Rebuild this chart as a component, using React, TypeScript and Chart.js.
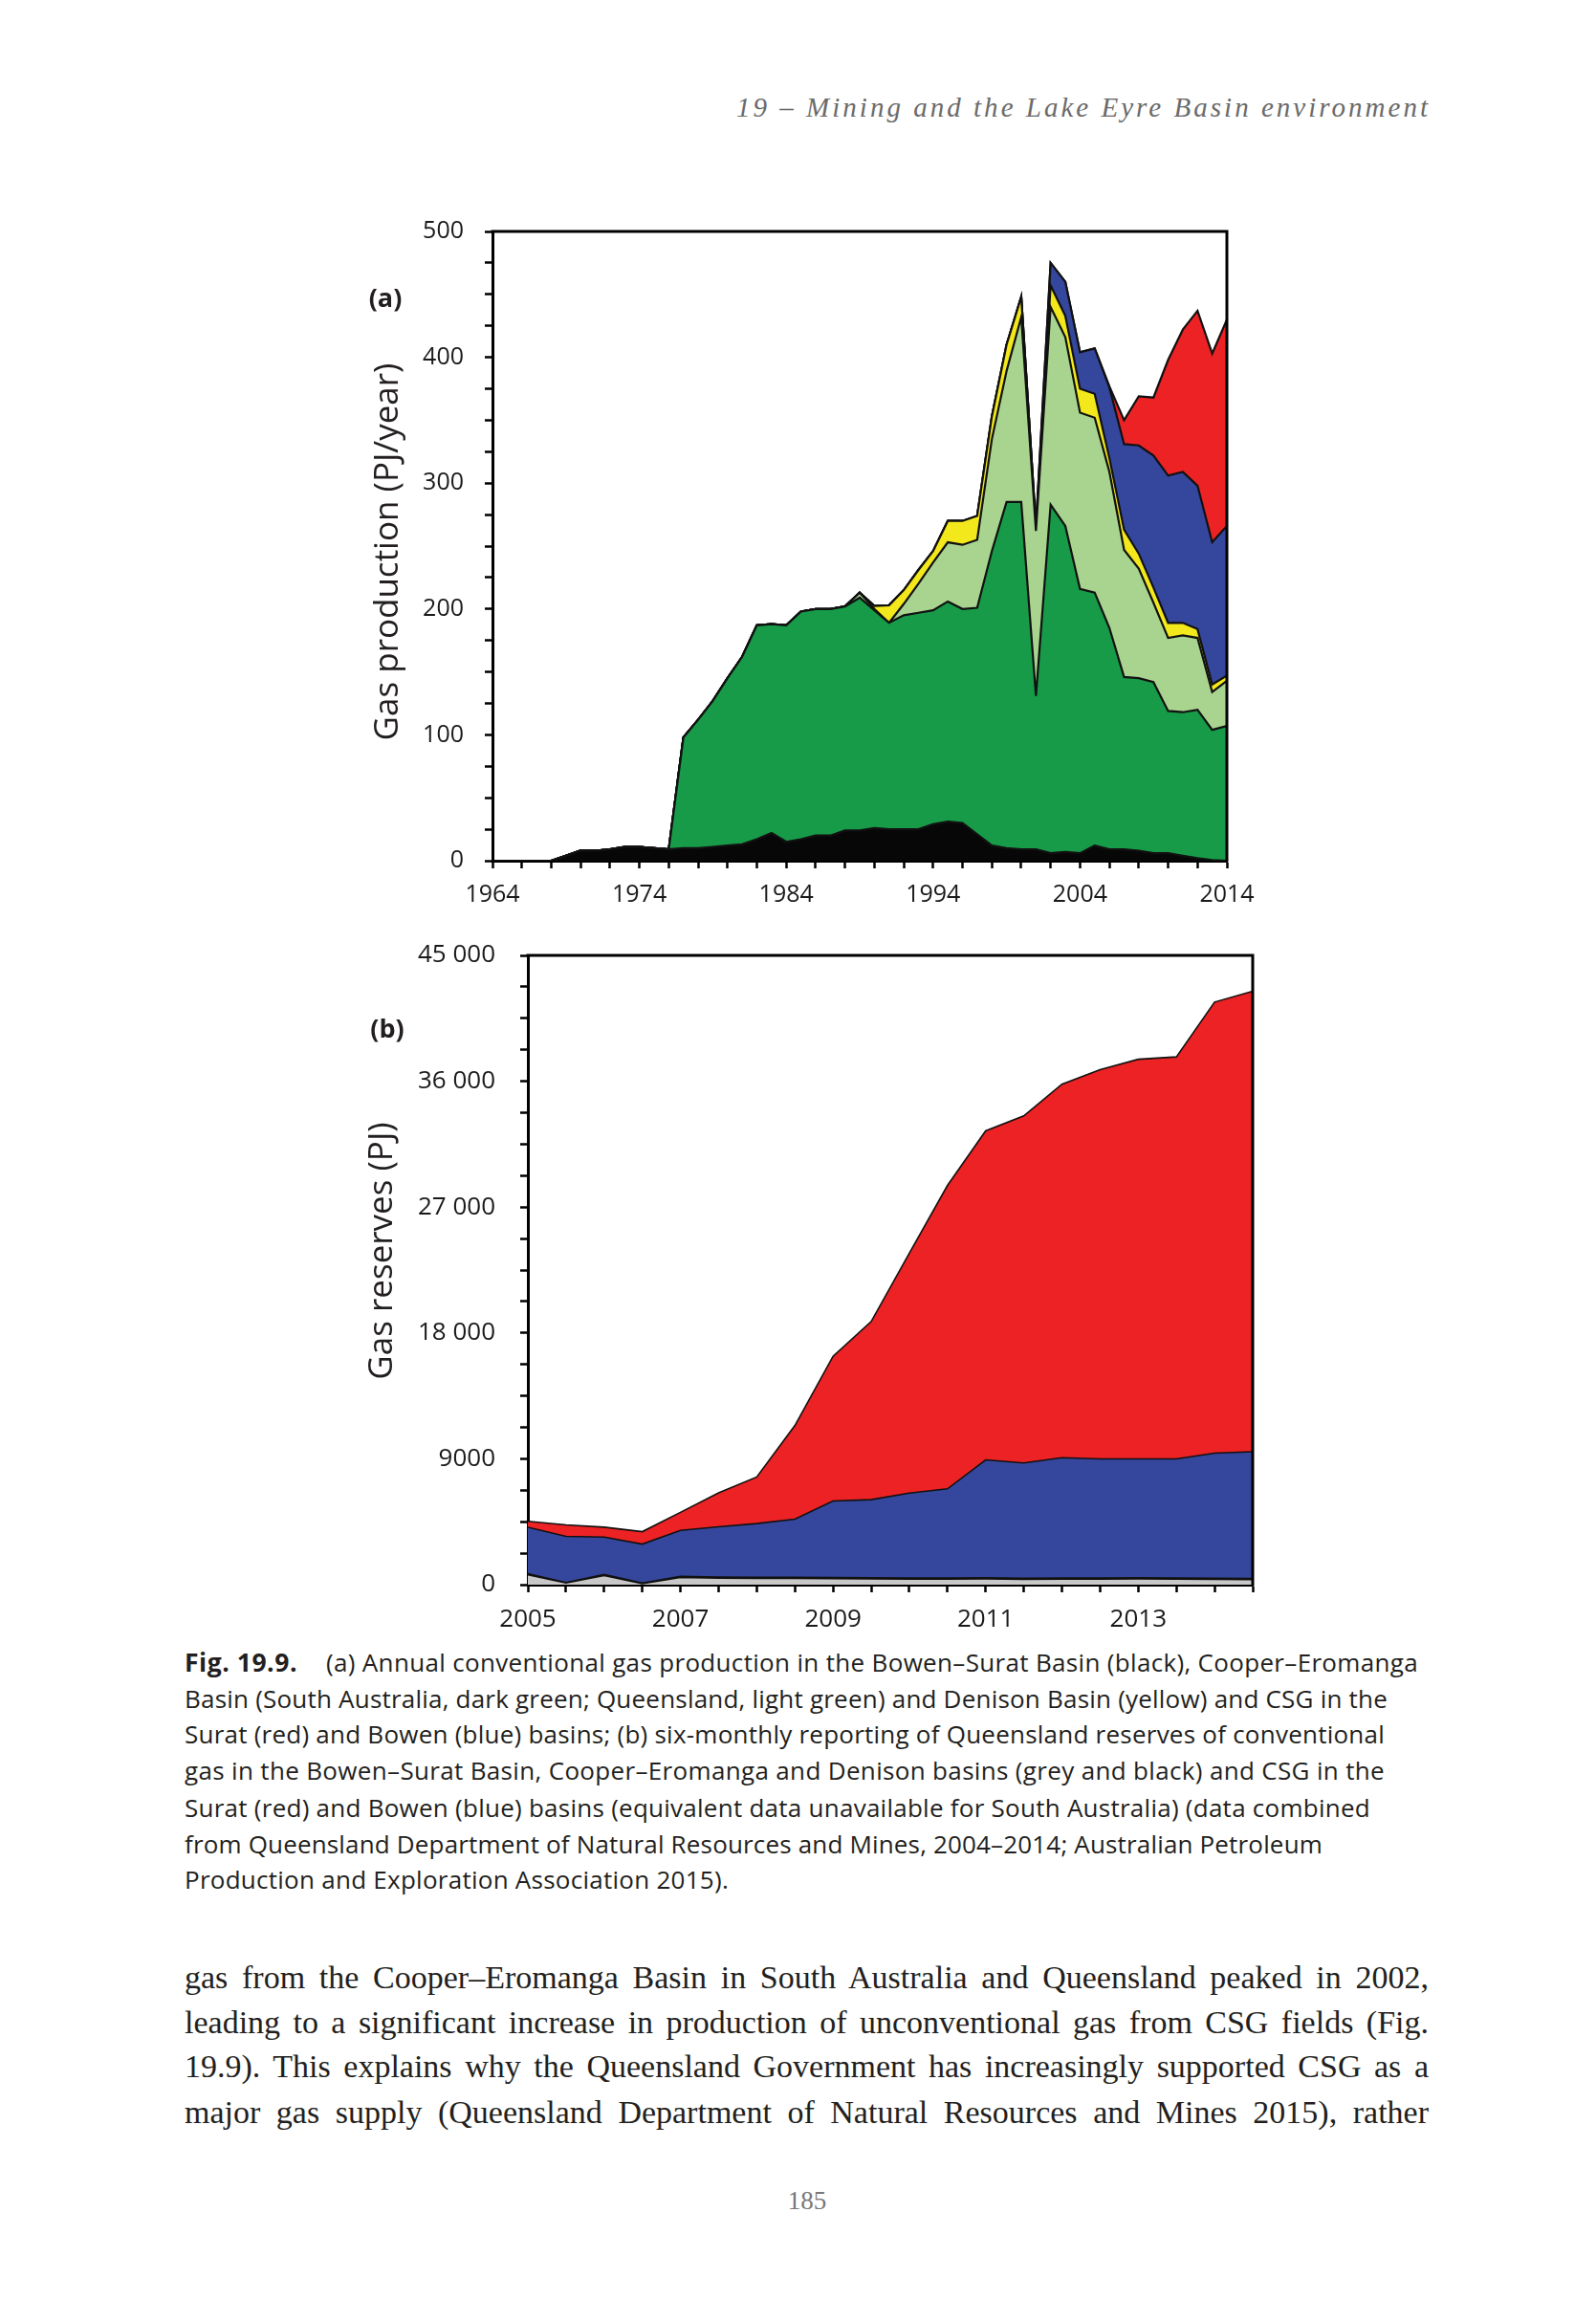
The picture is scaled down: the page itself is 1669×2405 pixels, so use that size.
import React, { useEffect, useLayoutEffect, useRef } from 'react';
import { Chart, registerables } from 'chart.js';

Chart.register(...registerables);

// ---------- Panel (a): annual gas production (PJ/year) ----------
const yearsA = [1964, 1965, 1966, 1967, 1968, 1969, 1970, 1971, 1972, 1973, 1974, 1975, 1976, 1977, 1978, 1979, 1980, 1981, 1982, 1983, 1984, 1985, 1986, 1987, 1988, 1989, 1990, 1991, 1992, 1993, 1994, 1995, 1996, 1997, 1998, 1999, 2000, 2001, 2002, 2003, 2004, 2005, 2006, 2007, 2008, 2009, 2010, 2011, 2012, 2013, 2014];
const bowenSuratA = [0, 0, 0, 0, 0, 4, 8, 8, 9, 11, 11, 10, 9, 10, 10, 11, 12, 13, 17, 22, 15, 17, 20, 20, 24, 24, 26, 25, 25, 25, 29, 31, 30, 21, 12, 10, 9, 9, 6, 7, 6, 12, 9, 9, 8, 6, 6, 4, 2, 0.5, 0];
const cooperSA_A = [0, 0, 0, 0, 0, 0, 0, 0, 0, 0, 0, 0, 0, 88, 102, 116, 133, 149, 170, 166, 172, 181, 180, 180, 178, 185, 173, 164, 170, 172, 170, 175, 170, 180, 234, 275, 276, 122, 277, 259, 210, 201, 176, 137, 137, 136, 113, 114, 118, 103.5, 107];
const cooperQLD_A = [0, 0, 0, 0, 0, 0, 0, 0, 0, 0, 0, 0, 0, 0, 0, 0, 0, 0, 0, 0, 0, 0, 0, 0, 0, 4, 1, 0, 9, 23, 38, 47, 51, 54, 89, 104, 147, 131, 157, 150, 140, 139, 124, 101, 87, 63, 58, 61, 57, 30, 36];
const denisonA = [0, 0, 0, 0, 0, 0, 0, 0, 0, 0, 0, 0, 0, 0, 0, 0, 0, 0, 0, 0, 0, 0, 0, 0, 0, 0, 2.5, 14, 11, 11, 9, 17, 19, 19, 18, 21, 16, 3, 17, 17, 19, 19, 11, 16, 12, 12, 12, 10, 7, 6, 4];
const csgBowenA = [0, 0, 0, 0, 0, 0, 0, 0, 0, 0, 0, 0, 0, 0, 0, 0, 0, 0, 0, 0, 0, 0, 0, 0, 0, 0, 0, 0, 0, 0, 0, 0, 0, 0, 0, 0, 0, 0, 18, 27, 29, 36, 56, 68, 86, 105, 117, 120, 114, 113, 119];
const csgSuratA = [0, 0, 0, 0, 0, 0, 0, 0, 0, 0, 0, 0, 0, 0, 0, 0, 0, 0, 0, 0, 0, 0, 0, 0, 0, 0, 0, 0, 0, 0, 0, 0, 0, 0, 0, 0, 0, 0, 0, 0, 0, 0, 1, 19, 39, 46, 92, 113, 139, 150, 164];
const xLabelsA = [1964, 1974, 1984, 1994, 2004, 2014];
const yLabelsA = [0, 100, 200, 300, 400, 500];

// ---------- Panel (b): six-monthly Queensland reserves (PJ) ----------
const periodsB = [2005, 2005.5, 2006, 2006.5, 2007, 2007.5, 2008, 2008.5, 2009, 2009.5, 2010, 2010.5, 2011, 2011.5, 2012, 2012.5, 2013, 2013.5, 2014, 2014.5];
const conventionalGreyB = [700, 120, 650, 80, 520, 470, 450, 440, 430, 420, 400, 400, 420, 380, 400, 400, 410, 390, 380, 360];
const conventionalBlackB = [80, 40, 80, 40, 80, 80, 80, 80, 80, 80, 80, 80, 80, 80, 80, 80, 80, 80, 80, 80];
const csgBowenB = [3320, 3290, 2670, 2780, 3280, 3590, 3840, 4170, 5470, 5580, 6070, 6370, 8420, 8240, 8600, 8510, 8500, 8520, 8940, 9070];
const csgSuratB = [430, 820, 710, 890, 1290, 2420, 3330, 6690, 10350, 12740, 17150, 21700, 23530, 24820, 26710, 27840, 28580, 28750, 32260, 32930];
const xLabelsB = [2005, 2007, 2009, 2011, 2013];
const yLabelValuesB = [0, 9000, 18000, 27000, 36000, 45000];
const yLabelTextsB = ['0', '9000', '18 000', '27 000', '36 000', '45 000'];

// ---------- styles ----------
const COLORS = {
  black: '#070707',
  darkGreen: '#179B48',
  lightGreen: '#A9D48F',
  yellow: '#F3E81B',
  blue: '#35479D',
  red: '#ED2224',
  grey: '#C8C8C8',
};
const SANS = "'Open Sans', 'Noto Sans', sans-serif";
const SERIF = "'Liberation Serif', 'DejaVu Serif', serif";
const INK = '#231f20';

const framePlugin = {
  id: 'frame',
  afterDatasetsDraw(chart: any) {
    const { ctx, chartArea: a } = chart;
    ctx.save();
    ctx.strokeStyle = '#000';
    ctx.lineWidth = 3;
    ctx.lineCap = 'square';
    ctx.beginPath();
    ctx.moveTo(a.left, a.top);
    ctx.lineTo(a.right, a.top);
    ctx.lineTo(a.right, a.bottom);
    ctx.stroke();
    ctx.restore();
  },
};

function makeDatasets(xs: number[], layers: { label: string; data: number[]; color: string }[], lineWidth: number) {
  return layers.map((l, i) => ({
    label: l.label,
    data: xs.map((x, j) => ({ x, y: l.data[j] })),
    backgroundColor: l.color,
    borderColor: '#111',
    borderWidth: lineWidth,
    borderJoinStyle: 'miter' as const,
    pointRadius: 0,
    pointHoverRadius: 0,
    pointHitRadius: 0,
    tension: 0,
    fill: i === 0 ? 'origin' : '-1',
  }));
}

function near(list: number[], v: number) {
  return list.findIndex((t) => Math.abs(t - v) < 1e-6);
}

function axisCommon(tickFont: number, pad: number) {
  return {
    z: 1,
    border: { display: true, color: '#000', width: 3 },
    grid: { display: true, drawOnChartArea: false, drawTicks: true, tickLength: 8, tickWidth: 2.5, tickColor: '#000' },
    ticks: { autoSkip: false, maxRotation: 0, minRotation: 0, padding: pad, color: '#1a1a1a', font: { family: 'Open Sans', size: tickFont } },
  };
}

const fitX = (h: number) => (s: any) => { s.height = h; s.paddingLeft = 0; s.paddingRight = 0; };
const fitY = (w: number) => (s: any) => { s.width = w; s.paddingTop = 0; s.paddingBottom = 0; };

function ChartA() {
  const ref = useRef<HTMLCanvasElement>(null);
  useEffect(() => {
    if (!ref.current) return;
    const cx = axisCommon(25, 13);
    const cy = axisCommon(25, 22);
    const chart = new Chart(ref.current, {
      type: 'line',
      data: {
        datasets: makeDatasets(yearsA, [
          { label: 'Bowen–Surat Basin', data: bowenSuratA, color: COLORS.black },
          { label: 'Cooper–Eromanga Basin (South Australia)', data: cooperSA_A, color: COLORS.darkGreen },
          { label: 'Cooper–Eromanga Basin (Queensland)', data: cooperQLD_A, color: COLORS.lightGreen },
          { label: 'Denison Basin', data: denisonA, color: COLORS.yellow },
          { label: 'CSG Bowen Basin', data: csgBowenA, color: COLORS.blue },
          { label: 'CSG Surat Basin', data: csgSuratA, color: COLORS.red },
        ], 2.2) as any,
      },
      options: {
        animation: false,
        responsive: false,
        devicePixelRatio: 1,
        events: [],
        layout: { autoPadding: false, padding: { left: 0, top: 20, right: 37, bottom: 0 } },
        plugins: { legend: { display: false }, tooltip: { enabled: false }, title: { display: false } },
        scales: {
          x: {
            type: 'linear', min: 1964, max: 2014, ...cx,
            ticks: { ...cx.ticks, stepSize: 2, callback: (v: any) => (near(xLabelsA, Number(v)) >= 0 ? String(v) : '') },
            afterFit: fitX(62),
          },
          y: {
            type: 'linear', min: 0, max: 500, stacked: true, ...cy,
            ticks: { ...cy.ticks, stepSize: 25, callback: (v: any) => (near(yLabelsA, Number(v)) >= 0 ? String(v) : '') },
            afterFit: fitY(95),
          },
        },
      } as any,
      plugins: [framePlugin],
    });
    return () => chart.destroy();
  }, []);
  return <canvas ref={ref} width={900} height={740} style={{ position: 'absolute', left: 420, top: 222, width: 900, height: 740 }} />;
}

function ChartB() {
  const ref = useRef<HTMLCanvasElement>(null);
  useEffect(() => {
    if (!ref.current) return;
    const cx = axisCommon(26, 13);
    const cy = axisCommon(26, 26);
    const chart = new Chart(ref.current, {
      type: 'line',
      data: {
        datasets: makeDatasets(periodsB, [
          { label: 'Conventional (grey)', data: conventionalGreyB, color: COLORS.grey },
          { label: 'Conventional (black)', data: conventionalBlackB, color: COLORS.black },
          { label: 'CSG Bowen Basin', data: csgBowenB, color: COLORS.blue },
          { label: 'CSG Surat Basin', data: csgSuratB, color: COLORS.red },
        ], 1.6) as any,
      },
      options: {
        animation: false,
        responsive: false,
        devicePixelRatio: 1,
        events: [],
        layout: { autoPadding: false, padding: { left: 0, top: 20, right: 10, bottom: 0 } },
        plugins: { legend: { display: false }, tooltip: { enabled: false }, title: { display: false } },
        scales: {
          x: {
            type: 'linear', min: 2005, max: 2014.5, ...cx,
            ticks: { ...cx.ticks, stepSize: 0.5, callback: (v: any) => { const i = near(xLabelsB, Number(v)); return i >= 0 ? String(xLabelsB[i]) : ''; } },
            afterFit: fitX(62),
          },
          y: {
            type: 'linear', min: 0, max: 45000, stacked: true, ...cy,
            ticks: { ...cy.ticks, stepSize: 2250, callback: (v: any) => { const i = near(yLabelValuesB, Number(v)); return i >= 0 ? yLabelTextsB[i] : ''; } },
            afterFit: fitY(132),
          },
        },
      } as any,
      plugins: [framePlugin],
    });
    return () => chart.destroy();
  }, []);
  return <canvas ref={ref} width={900} height={740} style={{ position: 'absolute', left: 420, top: 979, width: 900, height: 740 }} />;
}

type FitProps = { text: string; left: number; cy: number; width: number; lineHeight: number; mode: 'letter' | 'word'; style: React.CSSProperties };
function FitText({ text, left, cy, width, lineHeight, mode, style }: FitProps) {
  const ref = useRef<HTMLDivElement>(null);
  useLayoutEffect(() => {
    const el = ref.current;
    if (!el) return;
    const fit = () => {
      el.style.letterSpacing = '0px';
      el.style.wordSpacing = '0px';
      const w = el.getBoundingClientRect().width;
      if (mode === 'word') {
        const n = (text.match(/ /g) || []).length;
        if (n) el.style.wordSpacing = (width - w) / n + 'px';
      } else {
        el.style.letterSpacing = (width - w) / text.length + 'px';
      }
    };
    fit();
    const f = (document as any).fonts;
    if (f && f.ready) f.ready.then(fit);
  }, [text, width, mode]);
  return (
    <div ref={ref} style={{ position: 'absolute', left, top: cy - lineHeight / 2, lineHeight: lineHeight + 'px', whiteSpace: 'nowrap', ...style }}>
      {text}
    </div>
  );
}

const captionLines = [
  '(a) Annual conventional gas production in the Bowen–Surat Basin (black), Cooper–Eromanga',
  'Basin (South Australia, dark green; Queensland, light green) and Denison Basin (yellow) and CSG in the',
  'Surat (red) and Bowen (blue) basins; (b) six-monthly reporting of Queensland reserves of conventional',
  'gas in the Bowen–Surat Basin, Cooper–Eromanga and Denison basins (grey and black) and CSG in the',
  'Surat (red) and Bowen (blue) basins (equivalent data unavailable for South Australia) (data combined',
  'from Queensland Department of Natural Resources and Mines, 2004–2014; Australian Petroleum',
  'Production and Exploration Association 2015).',
];
const captionLefts = [341, 193, 193, 193, 193, 193, 193];
const captionRights = [1483, 1451, 1448, 1448, 1433, 1383, 762];
const captionCenters = [1738, 1776, 1813, 1851, 1890, 1928, 1965];

const bodyLines = [
  'gas from the Cooper–Eromanga Basin in South Australia and Queensland peaked in 2002,',
  'leading to a significant increase in production of unconventional gas from CSG fields (Fig.',
  '19.9). This explains why the Queensland Government has increasingly supported CSG as a',
  'major gas supply (Queensland Department of Natural Resources and Mines 2015), rather',
];
const bodyCenters = [2068, 2115, 2161, 2209];

function Centered({ x, y, children, style }: { x: number; y: number; children: React.ReactNode; style: React.CSSProperties }) {
  return (
    <div style={{ position: 'absolute', left: x, top: y, transform: 'translate(-50%, -50%)', whiteSpace: 'nowrap', lineHeight: 1, ...style }}>
      {children}
    </div>
  );
}

export default function App() {
  return (
    <div style={{ position: 'absolute', left: 0, top: 0, width: 1669, height: 2405, background: '#fff', overflow: 'hidden' }}>
      <FitText text="19 – Mining and the Lake Eyre Basin environment" left={770} cy={112} width={726} lineHeight={34} mode="letter"
        style={{ fontFamily: SERIF, fontStyle: 'italic', fontSize: 29, color: '#6a6a6a' }} />

      <ChartA />
      <ChartB />

      <Centered x={403} y={310} style={{ fontFamily: SANS, fontWeight: 700, fontSize: 27, color: INK }}>(a)</Centered>
      <Centered x={405} y={1074} style={{ fontFamily: SANS, fontWeight: 700, fontSize: 27, color: INK }}>(b)</Centered>
      <Centered x={402} y={577} style={{ fontFamily: SANS, fontSize: 35, color: INK, transform: 'translate(-50%, -50%) rotate(-90deg)' }}>Gas production (PJ/year)</Centered>
      <Centered x={396} y={1308} style={{ fontFamily: SANS, fontSize: 35, color: INK, transform: 'translate(-50%, -50%) rotate(-90deg)' }}>Gas reserves (PJ)</Centered>

      <FitText text="Fig. 19.9." left={193} cy={captionCenters[0]} width={118} lineHeight={32} mode="letter"
        style={{ fontFamily: SANS, fontWeight: 700, fontSize: 26.5, color: INK }} />
      {captionLines.map((t, i) => (
        <FitText key={i} text={t} left={captionLefts[i]} cy={captionCenters[i]} width={captionRights[i] - captionLefts[i]} lineHeight={32} mode="letter"
          style={{ fontFamily: SANS, fontSize: 26, color: INK }} />
      ))}

      {bodyLines.map((t, i) => (
        <FitText key={i} text={t} left={193} cy={bodyCenters[i]} width={1301} lineHeight={42} mode="word"
          style={{ fontFamily: SERIF, fontSize: 34, color: INK }} />
      ))}

      <Centered x={844} y={2301} style={{ fontFamily: SERIF, fontSize: 27, color: '#777' }}>185</Centered>
    </div>
  );
}
